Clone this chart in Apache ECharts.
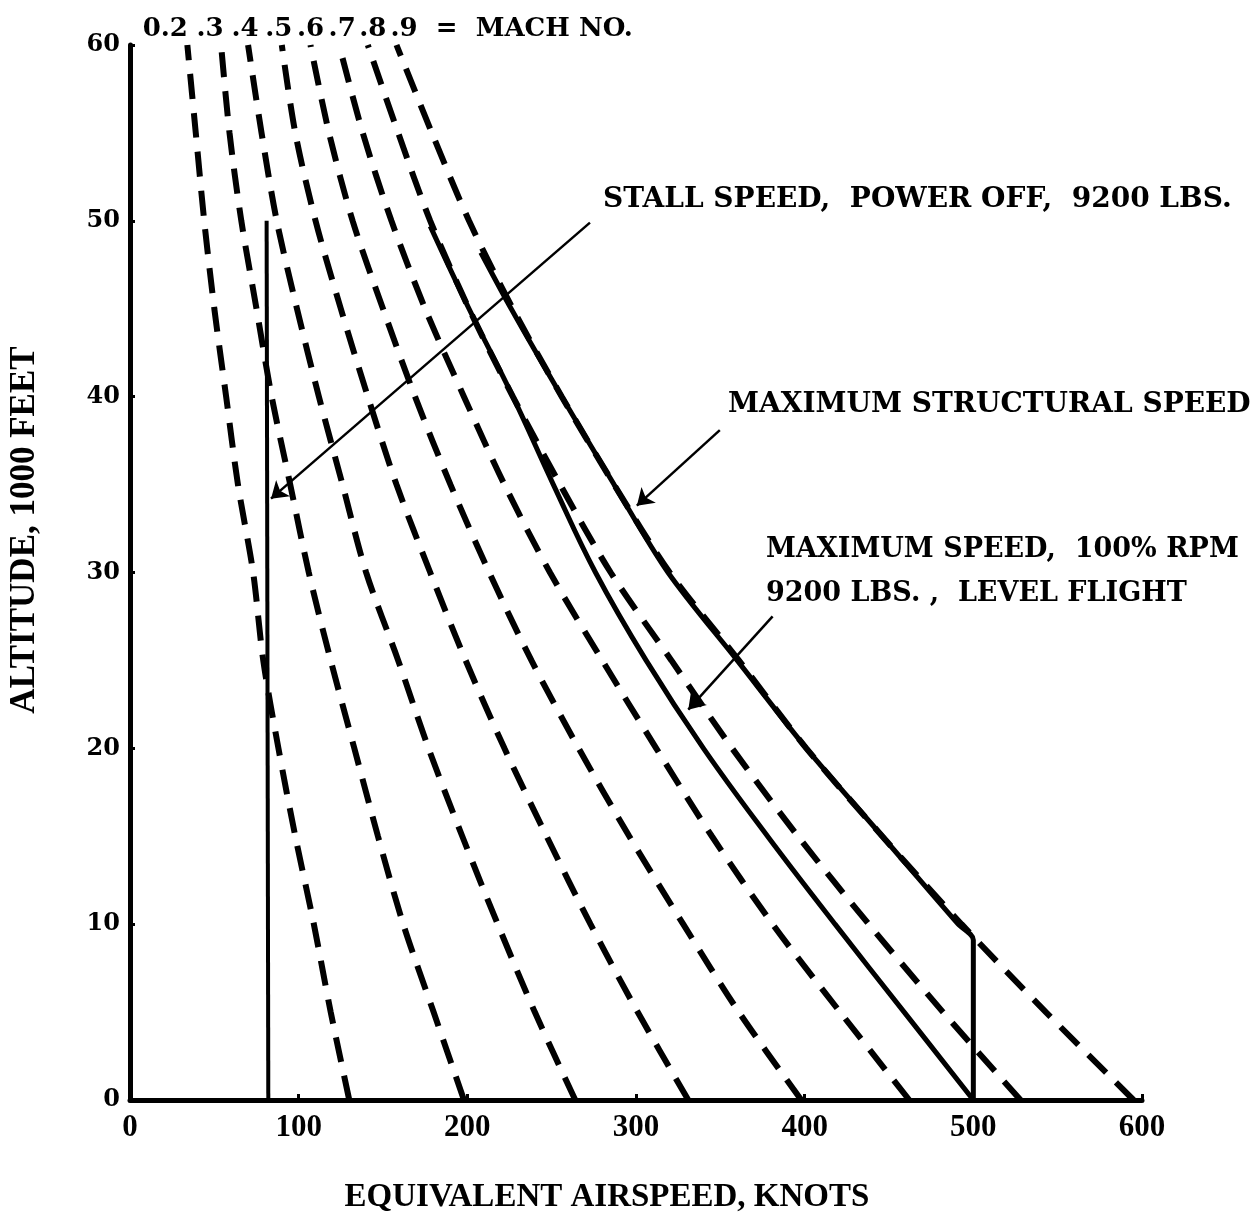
<!DOCTYPE html>
<html>
<head>
<meta charset="utf-8">
<script src="https://cdn.jsdelivr.net/npm/echarts@6/dist/echarts.min.js"></script>
<style>
html,body{margin:0;padding:0;background:#fff;}
#chart{width:1260px;height:1218px;}
</style>
</head>
<body>
<div id="chart"></div>
<script>
// ---- data ----
const altitudes = [0, 5, 10, 15, 20, 25, 30, 35, 40, 45, 50, 55, 60]; // 1000 ft
const machLabels = ['0.2', '.3', '.4', '.5', '.6', '.7', '.8', '.9'];
const mach02 = [130, 119, 109, 98, 88, 79, 73, 64, 57, 50, 44, 39, 34];
const mach03 = [198, 180, 162, 147, 133, 119, 106, 95, 84, 75, 66, 59, 54];
const mach04 = [264, 240, 218, 197, 177, 159, 140, 126, 112, 99, 87, 78, 70];
const mach05 = [331, 301, 273, 247, 222, 199, 178, 158, 141, 125, 110, 98, 90];
const mach06 = [398, 361, 328, 296, 266, 238, 213, 190, 169, 150, 132, 118, 107];
const mach07 = [462, 421, 381, 345, 312, 280, 249, 222, 198, 175, 155, 138, 124];
const mach08 = [528, 482, 438, 396, 357, 321, 285, 255, 227, 201, 178, 159, 141];
const mach09 = [595, 543, 493, 446, 401, 361, 320, 287, 256, 227, 201, 179, 158];

// stall speed, power off, 9200 lbs  [knots, 1000 ft]
const stallSpeed = [[82, 0], [81, 50]];
// maximum structural speed
const structSpeed = [[208, 48.2], [226, 45], [256, 40], [287, 35], [319, 30], [360, 25], [401, 20], [446, 15], [491, 10], [500, 9.1], [500, 0]];
// maximum speed, 100% rpm, 9200 lbs, level flight
const maxSpeed = [[178, 49.7], [201, 45], [227, 40], [251, 35], [276, 30], [306, 25], [340, 20], [378, 15], [418, 10], [459, 5], [500, 0]];

// annotation arrows [from, to]
const arrowStall = [[272.7, 49.9], [83.6, 34.2]];
const arrowStruct = [[349.7, 38.1], [300.5, 33.8]];
const arrowMax = [[381, 27.5], [331, 22.2]];

const xTicks = [0, 100, 200, 300, 400, 500, 600];
const yTicks = [0, 10, 20, 30, 40, 50, 60];

// ---- chart ----
const machData = [mach02, mach03, mach04, mach05, mach06, mach07, mach08, mach09];
const labelShift = [-22, -11, -3, -3, 0, 3, 5, -6];
const SERIF = '"DejaVu Serif", serif';
const TIMES = '"Liberation Serif", serif';

const series = [];
machData.forEach((vals, i) => {
  series.push({
    type: 'line',
    name: 'M' + machLabels[i],
    data: vals.map((v, j) => [v, altitudes[j]]),
    symbol: 'none',
    smooth: 0.3,
    lineStyle: { color: '#000', width: 6, type: [25, 14], cap: 'butt' },
    z: 2
  });
});

series.push({
  type: 'line', name: 'stall', data: stallSpeed, symbol: 'none',
  lineStyle: { color: '#000', width: 4 }, z: 3
});
series.push({
  type: 'line', name: 'structural', data: structSpeed, symbol: 'none', smooth: 0.3,
  lineStyle: { color: '#000', width: 5 }, z: 3
});
series.push({
  type: 'line', name: 'maxspeed', data: maxSpeed, symbol: 'none', smooth: 0.4,
  lineStyle: { color: '#000', width: 5 }, z: 3
});
series.push({
  type: 'lines', coordinateSystem: 'cartesian2d', name: 'arrows',
  symbol: ['none', 'arrow'], symbolSize: [0, 16],
  lineStyle: { color: '#000', width: 2.5, opacity: 1 },
  data: [arrowStall, arrowStruct, arrowMax].map(a => ({ coords: a })),
  z: 4
});
// Mach labels at the top of each Mach line
series.push({
  type: 'scatter', name: 'machlabels', symbolSize: 0,
  itemStyle: { color: '#000', opacity: 1 },
  data: machData.map((vals, i) => ({
    value: [vals[vals.length - 1], altitudes[altitudes.length - 1]],
    name: machLabels[i] + (i === machData.length - 1 ? '  =  MACH NO.' : ''),
    label: i === machData.length - 1
      ? { align: 'left', offset: [labelShift[i], 0] }
      : { offset: [labelShift[i], 0] }
  })),
  label: {
    show: true, position: 'top', distance: 3, formatter: '{b}',
    color: '#000', opacity: 1, fontFamily: SERIF, fontWeight: 'bold', fontSize: 26
  },
  z: 5
});

const chart = echarts.init(document.getElementById('chart'), null, { renderer: 'canvas' });
chart.setOption({
  backgroundColor: '#fff',
  animation: false,
  grid: { left: 130, right: 118, top: 45, bottom: 118, containLabel: false },
  xAxis: {
    type: 'value', min: xTicks[0], max: xTicks[xTicks.length - 1], interval: 100,
    axisLine: { show: true, lineStyle: { color: '#000', width: 5 } },
    axisTick: { show: true, inside: true, length: 6, lineStyle: { color: '#000', width: 3 } },
    axisLabel: { color: '#000', fontFamily: TIMES, fontWeight: 'bold', fontSize: 31, margin: 12 },
    splitLine: { show: false }
  },
  yAxis: {
    type: 'value', min: yTicks[0], max: yTicks[yTicks.length - 1], interval: 10,
    axisLine: { show: true, lineStyle: { color: '#000', width: 5 } },
    axisTick: { show: true, inside: true, length: 5, lineStyle: { color: '#000', width: 3 } },
    axisLabel: { color: '#000', fontFamily: SERIF, fontWeight: 'bold', fontSize: 24, margin: 10 },
    splitLine: { show: false }
  },
  graphic: [
    { type: 'text', x: 607, y: 1197, style: { text: 'EQUIVALENT AIRSPEED, KNOTS', font: 'bold 33px "Liberation Serif", serif', fill: '#000', align: 'center', verticalAlign: 'middle', textAlign: 'center', textVerticalAlign: 'middle' } },
    { type: 'text', x: 25, y: 530, rotation: Math.PI / 2, style: { text: 'ALTITUDE, 1000 FEET', font: 'bold 35px "Liberation Serif", serif', fill: '#000', align: 'center', verticalAlign: 'middle', textAlign: 'center', textVerticalAlign: 'middle' } },
    { type: 'text', left: 603, top: 186, style: { text: 'STALL SPEED,  POWER OFF,  9200 LBS.', font: 'bold 28px "DejaVu Serif", serif', fill: '#000' } },
    { type: 'text', left: 728, top: 391, style: { text: 'MAXIMUM STRUCTURAL SPEED', font: 'bold 28px "DejaVu Serif", serif', fill: '#000' } },
    { type: 'text', left: 766, top: 536, style: { text: 'MAXIMUM SPEED,  100% RPM', font: 'bold 27px "DejaVu Serif", serif', fill: '#000' } },
    { type: 'text', left: 766, top: 580, style: { text: '9200 LBS. ,  LEVEL FLIGHT', font: 'bold 27px "DejaVu Serif", serif', fill: '#000' } }
  ],
  series: series
});
</script>
</body>
</html>
